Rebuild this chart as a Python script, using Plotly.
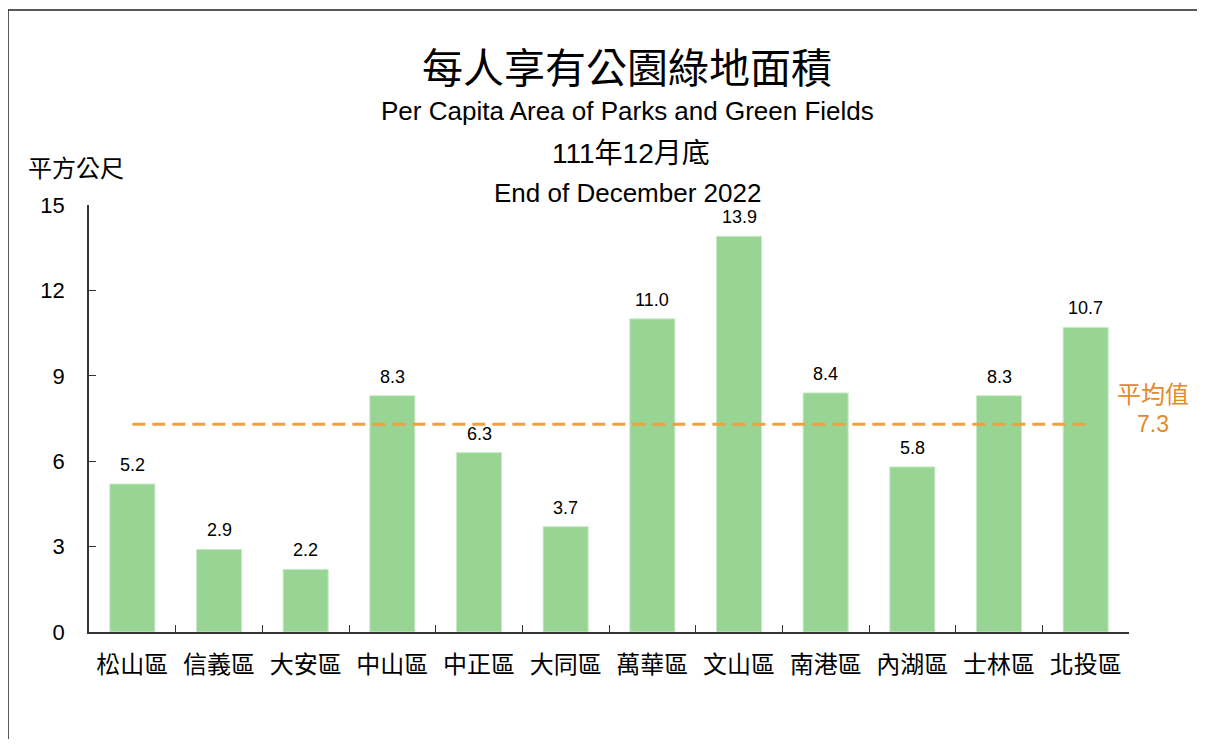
import plotly.graph_objects as go

districts = ["松山區", "信義區", "大安區", "中山區", "中正區", "大同區",
             "萬華區", "文山區", "南港區", "內湖區", "士林區", "北投區"]
values = [5.2, 2.9, 2.2, 8.3, 6.3, 3.7, 11.0, 13.9, 8.4, 5.8, 8.3, 10.7]
average = 7.3
y_ticks = [0, 3, 6, 9, 12, 15]

title_zh = "每人享有公園綠地面積"
title_en = "Per Capita Area of Parks and Green Fields"
date_zh = "111年12月底"
date_en = "End of December 2022"
y_unit = "平方公尺"
avg_label = "平均值"

# page body has an 8px margin; work in reference pixels and shift by OFF
OFF = 8
W, H = 1205 - 2 * OFF, 747 - 2 * OFF
L, R, T, B = 89 - OFF, 1129 - OFF, 205 - OFF, 632 - OFF

CJK = "Noto Sans CJK TC"
EN = "Liberation Sans, Arial"

def px_x(p):
    return (p - OFF - L) / (R - L)

def px_y(p):
    return (B - (p - OFF)) / (B - T)

fig = go.Figure()
fig.add_trace(go.Bar(
    x=districts, y=values, width=0.52,
    marker=dict(color="#98D595", line=dict(color="#C9EAC7", width=1)),
    hoverinfo="x+y", showlegend=False,
))
fig.add_trace(go.Scatter(
    x=[districts[0], districts[-1]], y=[average, average], mode="lines",
    line=dict(color="#F0A040", width=3, dash="13px,7px"),
    hoverinfo="skip", showlegend=False,
))

annotations = []
for d, v in zip(districts, values):
    annotations.append(dict(x=d, y=v, xref="x", yref="y", text=f"{v:.1f}",
                            showarrow=False, yanchor="bottom", yshift=7,
                            font=dict(family=EN, size=18, color="#000")))

def txt(text, xp, yp, family, size, color="#000"):
    annotations.append(dict(x=px_x(xp), y=px_y(yp), xref="paper", yref="paper",
                            text=text, showarrow=False, xanchor="center",
                            yanchor="middle", font=dict(family=family, size=size, color=color)))

txt(title_zh, 627, 65, CJK, 41)
txt(title_en, 627, 111, EN, 26)
txt(date_zh, 631, 153, EN + ", " + CJK, 28)
txt(date_en, 627, 193, EN, 26)
txt(y_unit, 76, 167, CJK, 24)
txt(avg_label, 1153, 392, CJK, 24, "#E58A28")
txt(f"{average}", 1153, 424, EN, 23, "#E58A28")

fig.update_layout(
    width=W, height=H,
    margin=dict(l=L, r=W - R, t=T, b=H - B),
    paper_bgcolor="white", plot_bgcolor="white",
    annotations=annotations,
    shapes=[dict(type="path", xref="paper", yref="paper",
                 path=f"M {px_x(8)} {px_y(760)} L {px_x(8)} {px_y(10)} L {px_x(1215)} {px_y(10)}",
                 line=dict(color="#222", width=1.5))],
    xaxis=dict(showline=True, linecolor="#333", linewidth=1.5, ticks="inside",
               tickson="boundaries", ticklen=7, tickcolor="#333",
               tickfont=dict(family=CJK, size=24, color="#000"),
               ticklabelstandoff=10, showgrid=False, fixedrange=True),
    yaxis=dict(range=[0, 15], tickvals=y_ticks, showline=True, linecolor="#333",
               linewidth=1.5, ticks="inside", ticklen=7, tickcolor="#333",
               tickfont=dict(family=EN, size=22, color="#000"),
               ticklabelstandoff=18, showgrid=False, zeroline=False, fixedrange=True),
)

fig.write_html("out.html")
